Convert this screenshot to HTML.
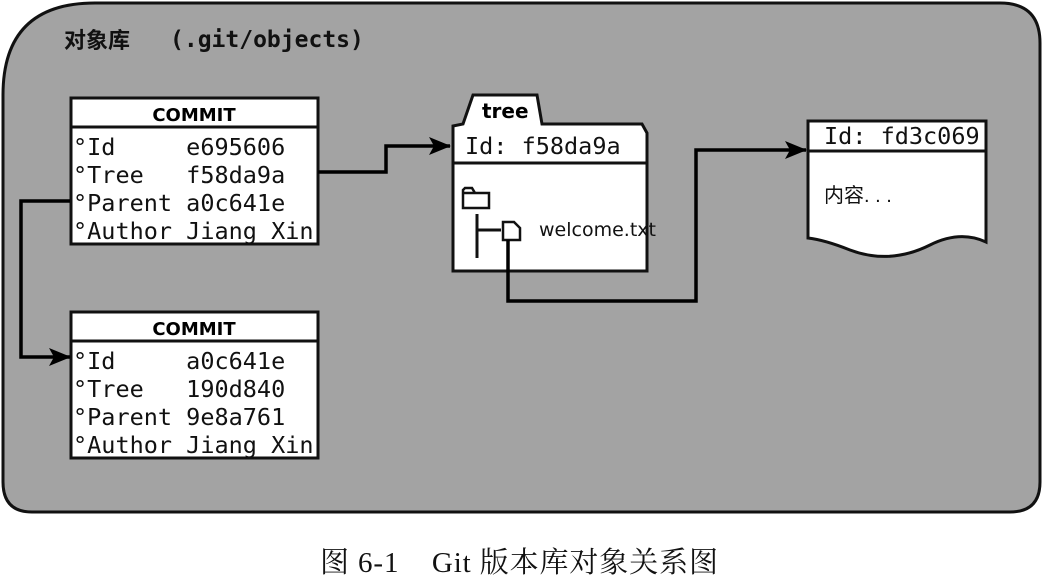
<!DOCTYPE html>
<html><head><meta charset="utf-8"><style>
body{margin:0;background:#fff;width:1043px;height:582px;overflow:hidden}
svg{display:block}
text{white-space:pre}
.m{font-family:"DejaVu Sans Mono","Liberation Mono",monospace;font-size:23.5px;fill:#111}
</style></head><body>
<svg width="1043" height="582" viewBox="0 0 1043 582">
<defs><marker id="b" markerWidth="22" markerHeight="18" refX="21" refY="9" orient="auto" markerUnits="userSpaceOnUse"><path d="M0,0 L22,9 L0,18 L5,9 z" fill="#000"/></marker></defs>
<path d="M95,3 H1000 Q1040,3 1040,43 V482 Q1040,512 1010,512 H32 Q3,512 3,482 V95 Q3,3 95,3 Z" fill="#a3a3a3" stroke="#111" stroke-width="3"/>
<text x="64" y="48" font-family="'Liberation Sans','Noto Sans CJK SC',sans-serif" font-size="22" font-weight="bold" fill="#111">对象库</text>
<text x="170" y="47" font-family="'DejaVu Sans Mono',monospace" font-size="23" font-weight="bold" fill="#111" xml:space="preserve">(.git/objects)</text>
<rect x="71" y="98" width="247" height="146" fill="#fff" stroke="#111" stroke-width="3"/>
<line x1="71" y1="127" x2="318" y2="127" stroke="#111" stroke-width="3"/>
<text x="194" y="121" text-anchor="middle" font-family="'DejaVu Sans',sans-serif" font-size="18" font-weight="bold">COMMIT</text>
<text x="73" y="155" class="m" xml:space="preserve">°Id     e695606</text><text x="73" y="183" class="m" xml:space="preserve">°Tree   f58da9a</text><text x="73" y="211" class="m" xml:space="preserve">°Parent a0c641e</text><text x="73" y="239" class="m" xml:space="preserve">°Author Jiang Xin</text>
<rect x="71" y="312" width="247" height="146" fill="#fff" stroke="#111" stroke-width="3"/>
<line x1="71" y1="341" x2="318" y2="341" stroke="#111" stroke-width="3"/>
<text x="194" y="335" text-anchor="middle" font-family="'DejaVu Sans',sans-serif" font-size="18" font-weight="bold">COMMIT</text>
<text x="73" y="369" class="m" xml:space="preserve">°Id     a0c641e</text><text x="73" y="397" class="m" xml:space="preserve">°Tree   190d840</text><text x="73" y="425" class="m" xml:space="preserve">°Parent 9e8a761</text><text x="73" y="453" class="m" xml:space="preserve">°Author Jiang Xin</text>
<path d="M453,271 V126 L463,124 L473,95 H537 L542,124 H642 L647,133 V271 Z" fill="#fff" stroke="#111" stroke-width="3"/>
<line x1="453" y1="163" x2="647" y2="163" stroke="#111" stroke-width="3"/>
<text x="482" y="118" font-family="'DejaVu Sans',sans-serif" font-size="20" font-weight="bold">tree</text>
<text x="465" y="154" class="m" xml:space="preserve">Id: f58da9a</text>
<path d="M463,190 V208 H489 V193 H475 L472,188 H465 Z M463,193 H489" fill="none" stroke="#111" stroke-width="2.5"/>
<path d="M477,214 V258 M477,230 H501" stroke="#111" stroke-width="3" fill="none"/>
<path d="M503,222 H514 L520,228 V240 H503 Z" fill="#fff" stroke="#111" stroke-width="2.5"/>
<text x="539" y="236" font-family="'DejaVu Sans',sans-serif" font-size="19" fill="#111">welcome.txt</text>
<path d="M808,121 H986 V242 Q960,230 930,245 Q890,265 850,250 Q825,240 808,238 Z" fill="#fff" stroke="#111" stroke-width="3"/>
<line x1="808" y1="151" x2="986" y2="151" stroke="#111" stroke-width="3"/>
<text x="824" y="144" class="m" xml:space="preserve">Id: fd3c069</text>
<text x="824" y="202" font-family="'Liberation Sans','Noto Sans CJK SC',sans-serif" font-size="20" fill="#111" xml:space="preserve">内容. . .</text>
<path d="M318,172 H386 V146 H450" fill="none" stroke="#000" stroke-width="3.5" marker-end="url(#b)"/>
<path d="M70,201 H21 V357 H70" fill="none" stroke="#000" stroke-width="3.5" marker-end="url(#b)"/>
<path d="M508,240 V301 H696 V150 H806" fill="none" stroke="#000" stroke-width="3.5" marker-end="url(#b)"/>
<text x="519" y="572" text-anchor="middle" font-family="'Liberation Serif','Noto Serif CJK SC',serif" font-size="29" fill="#111" xml:space="preserve" textLength="398" lengthAdjust="spacing">图 6-1    Git 版本库对象关系图</text>
</svg>
</body></html>
